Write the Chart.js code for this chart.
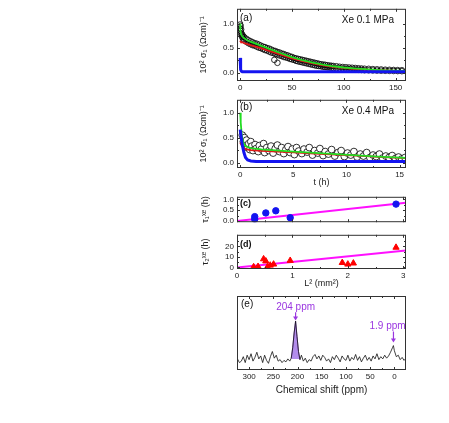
<!DOCTYPE html>
<html>
<head>
<meta charset="utf-8">
<script src="https://cdn.jsdelivr.net/npm/chart.js@4.4.0/dist/chart.umd.min.js"></script>
<style>
    html, body { margin: 0; padding: 0; background: #fff; width: 449px; height: 423px; overflow: hidden; }
    canvas { position: absolute; }
</style>
</head>
<body>
<canvas id="chart-a" width="225" height="92" style="left:190px;top:1px"></canvas>
<canvas id="chart-b" width="225" height="100" style="left:190px;top:92px"></canvas>
<canvas id="chart-c" width="225" height="41" style="left:190px;top:189px"></canvas>
<canvas id="chart-d" width="225" height="64" style="left:190px;top:227px"></canvas>
<canvas id="chart-e" width="225" height="103" style="left:190px;top:293px"></canvas>
<script>
// ---- Daten ----

// (a) Xe 0.1 MPa: Messpunkte [t (h), 10^2 sigma]
const circlesA = [
    [0, 0.98], [0, 0.9], [0.5, 0.85], [0.5, 0.95], [1, 0.8], [1, 0.88], [1.5, 0.76], [2, 0.78], [2, 0.72], [3, 0.74], [3, 0.68],
    [4, 0.72], [4, 0.66], [6, 0.69], [6, 0.63], [8, 0.66], [8, 0.6], [10, 0.64], [10, 0.58], [12, 0.62], [12, 0.56],
    [14, 0.6], [14, 0.55], [16, 0.59], [16, 0.53], [18, 0.57], [18, 0.51], [20, 0.55], [20, 0.5], [22, 0.53], [22, 0.48],
    [24, 0.52], [24, 0.46], [26, 0.5], [26, 0.45], [28, 0.49], [28, 0.43], [30, 0.47], [30, 0.41], [32, 0.45], [32, 0.4],
    [33, 0.26], [34, 0.44], [34, 0.38], [36, 0.42], [36, 0.37], [36, 0.2], [38, 0.41], [38, 0.35], [40, 0.39], [40, 0.34],
    [42, 0.38], [42, 0.32], [44, 0.36], [44, 0.31], [46, 0.35], [46, 0.3], [48, 0.33], [48, 0.28], [50, 0.32], [50, 0.27],
    [52, 0.3], [52, 0.26], [54, 0.29], [54, 0.24], [56, 0.28], [56, 0.23], [58, 0.27], [58, 0.22], [60, 0.26], [60, 0.21],
    [62, 0.25], [62, 0.2], [64, 0.24], [64, 0.19], [66, 0.23], [66, 0.18], [68, 0.22], [68, 0.17], [70, 0.21], [70, 0.16],
    [72, 0.2], [72, 0.15], [74, 0.19], [74, 0.14], [76, 0.18], [76, 0.135], [78, 0.17], [78, 0.13], [80, 0.165], [80, 0.12],
    [82, 0.16], [82, 0.115], [84, 0.15], [84, 0.11], [86, 0.145], [86, 0.105], [88, 0.14], [88, 0.1], [90, 0.135], [90, 0.095],
    [93, 0.13], [93, 0.09], [96, 0.12], [96, 0.085], [99, 0.115], [99, 0.08], [102, 0.11], [102, 0.075], [105, 0.105], [105, 0.07],
    [108, 0.1], [108, 0.065], [111, 0.095], [111, 0.06], [114, 0.09], [114, 0.058], [117, 0.085], [117, 0.055], [120, 0.08], [120, 0.05],
    [124, 0.078], [124, 0.048], [128, 0.072], [128, 0.045], [132, 0.068], [132, 0.042], [136, 0.065], [136, 0.04], [140, 0.06], [140, 0.038],
    [144, 0.058], [144, 0.036], [148, 0.055], [148, 0.034], [152, 0.052], [152, 0.032], [156, 0.05], [156, 0.03]
];
const fitTimeA = [0, 0.3, 1, 2, 4, 7, 10, 15, 20, 30, 40, 50, 60, 70, 80, 90, 100, 110, 120, 130, 140, 150, 160];
const greenA = [1.0, 0.85, 0.78, 0.74, 0.7, 0.66, 0.63, 0.59, 0.55, 0.47, 0.39, 0.315, 0.255, 0.205, 0.165, 0.13, 0.105, 0.085, 0.07, 0.058, 0.048, 0.04, 0.035];
const redA = [0.65, 0.64, 0.63, 0.62, 0.6, 0.58, 0.56, 0.53, 0.5, 0.43, 0.36, 0.29, 0.235, 0.19, 0.15, 0.12, 0.097, 0.078, 0.064, 0.053, 0.044, 0.037, 0.032];
const blueTimeA = [0, 0.3, 0.7, 1.2, 2, 160];
const blueA = [0.3, 0.15, 0.06, 0.03, 0.02, 0.02];

// (b) Xe 0.4 MPa
const circlesB = [
    [0.2, 0.55], [0.3, 0.42], [0.4, 0.5], [0.5, 0.35], [0.6, 0.45], [0.7, 0.3], [0.8, 0.38], [0.9, 0.26], [1.0, 0.42], [1.1, 0.33],
    [1.2, 0.24], [1.4, 0.36], [1.5, 0.28], [1.7, 0.22], [1.8, 0.34], [2.0, 0.27], [2.2, 0.38], [2.3, 0.2], [2.5, 0.3], [2.7, 0.24],
    [2.9, 0.33], [3.1, 0.19], [3.3, 0.28], [3.5, 0.35], [3.7, 0.22], [3.9, 0.3], [4.1, 0.18], [4.3, 0.26], [4.5, 0.32], [4.7, 0.2],
    [4.9, 0.27], [5.1, 0.16], [5.3, 0.3], [5.5, 0.23], [5.8, 0.18], [6.0, 0.27], [6.3, 0.21], [6.5, 0.3], [6.8, 0.15], [7.0, 0.24],
    [7.3, 0.19], [7.5, 0.28], [7.8, 0.14], [8.0, 0.22], [8.3, 0.17], [8.6, 0.26], [8.9, 0.13], [9.2, 0.2], [9.5, 0.24], [9.8, 0.12],
    [10.1, 0.19], [10.4, 0.15], [10.7, 0.22], [11.0, 0.11], [11.3, 0.17], [11.6, 0.13], [11.9, 0.2], [12.2, 0.1], [12.5, 0.15], [12.8, 0.12],
    [13.1, 0.17], [13.4, 0.09], [13.7, 0.13], [14.0, 0.1], [14.3, 0.14], [14.6, 0.08], [14.9, 0.11], [15.2, 0.07], [15.5, 0.1]
];
const fitTimeB = [0, 0.05, 0.15, 0.3, 0.5, 1, 2, 3, 5, 7, 9, 11, 13, 15, 15.6];
const greenB = [1.0, 0.8, 0.55, 0.4, 0.33, 0.29, 0.265, 0.25, 0.22, 0.195, 0.17, 0.145, 0.12, 0.1, 0.095];
const redB = [0.4, 0.38, 0.34, 0.3, 0.27, 0.25, 0.235, 0.225, 0.205, 0.18, 0.16, 0.14, 0.115, 0.095, 0.09];
const blueTimeB = [0, 0.1, 0.2, 0.35, 0.5, 0.7, 1, 1.5, 15.6];
const blueB = [0.66, 0.5, 0.35, 0.2, 0.1, 0.05, 0.03, 0.02, 0.02];

// (c) tau1 gegen L^2
const lengthC = [0.32, 0.32, 0.52, 0.7, 0.96, 2.87];
const tau1 = [0.2, 0.08, 0.37, 0.47, 0.15, 0.78];
const fitLineC = [[0, 0], [3.05, 0.84]];

// (d) tau2 gegen L^2
const lengthD = [0.3, 0.38, 0.48, 0.52, 0.55, 0.6, 0.66, 0.96, 1.9, 2.0, 2.1, 2.87];
const tau2 = [0.5, 0.8, 8, 6, 0.5, 2, 3, 6.5, 4.5, 3, 4, 19];
const fitLineD = [[0, 0], [3.05, 16]];

// (e) NMR-Spektrum [ppm, Intensitaet]
const spectrumE = [
    [324, 0.15], [320, 0.1], [316, 0.12], [312, 0.18], [308, 0.1], [304, 0.2], [300, 0.14], [296, 0.22], [292, 0.12], [288, 0.17],
    [284, 0.24], [280, 0.15], [276, 0.19], [272, 0.1], [268, 0.2], [264, 0.13], [260, 0.09], [256, 0.18], [252, 0.25], [248, 0.16],
    [244, 0.2], [240, 0.12], [236, 0.14], [232, 0.1], [228, 0.13], [224, 0.11], [220, 0.15], [216, 0.12], [213, 0.16], [210, 0.3],
    [207, 0.5], [204, 0.66], [201, 0.45], [198, 0.25], [195, 0.14], [192, 0.2], [188, 0.12], [184, 0.16], [180, 0.1], [176, 0.14],
    [172, 0.12], [168, 0.18], [164, 0.21], [160, 0.15], [156, 0.19], [152, 0.13], [148, 0.2], [144, 0.17], [140, 0.12], [136, 0.15],
    [132, 0.1], [128, 0.18], [124, 0.14], [120, 0.2], [116, 0.16], [112, 0.11], [108, 0.19], [104, 0.15], [100, 0.13], [96, 0.2],
    [92, 0.12], [88, 0.17], [84, 0.14], [80, 0.21], [76, 0.13], [72, 0.18], [68, 0.11], [64, 0.16], [60, 0.2], [56, 0.13],
    [52, 0.17], [48, 0.12], [44, 0.19], [40, 0.15], [36, 0.22], [32, 0.14], [28, 0.18], [24, 0.15], [20, 0.2], [16, 0.16],
    [12, 0.19], [8, 0.24], [4, 0.3], [2, 0.33], [0, 0.26], [-4, 0.18], [-8, 0.2], [-12, 0.14], [-16, 0.17], [-20, 0.13], [-24, 0.16]
];
const peakE = [[213, 0.16], [210, 0.3], [207, 0.5], [204, 0.66], [201, 0.45], [198, 0.25], [195, 0.14]];
const peakPpm = [204, 1.9];
const peakLabels = ['204 ppm', '1.9 ppm'];

// Achsenteilung (Haupt- und Nebenstriche)
const ticksTimeA = [0, 50, 100, 150];
const minorTimeA = [25, 75, 125];
const ticksTimeB = [0, 5, 10, 15];
const minorTimeB = [2.5, 7.5, 12.5];
const ticksSigma = [0, 0.5, 1.0];
const minorSigma = [0.25, 0.75];
const ticksLength = [0, 1, 2, 3];
const minorLength = [0.5, 1.5, 2.5];
const ticksTau1 = [0, 0.5, 1.0];
const minorTau1 = [0.25, 0.75];
const ticksTau2 = [0, 10, 20];
const minorTau2 = [5, 15, 25];
const ticksPpm = [300, 250, 200, 150, 100, 50, 0];
const minorPpm = [275, 225, 175, 125, 75, 25];

// ---- Stil ----
const FONT = "'Liberation Sans', Arial, sans-serif";
const COLORS = {
    green: '#22dd22',
    red: '#e01818',
    blue: '#1414f0',
    magenta: '#ff10ff',
    violet: '#9a36e0',
    violetFill: 'rgba(165, 120, 232, 0.85)',
    frame: '#333'
};

Chart.defaults.font.family = FONT;
Chart.defaults.color = '#222';

const pairs = (arr) => arr.map(([x, y]) => ({ x, y }));
const zip = (xs, ys) => xs.map((x, i) => ({ x, y: ys[i] }));

/**
 * Rahmen + nach innen gerichtete Striche + Texte im Panel
 */
const framePlugin = {
    id: 'frame',
    afterDatasetsDraw(chart, args, opts) {
        const { ctx, chartArea: a, scales } = chart;
        ctx.save();
        ctx.strokeStyle = COLORS.frame;
        ctx.lineWidth = 1;
        ctx.strokeRect(a.left + 0.5, a.top + 0.5, a.right - a.left - 1, a.bottom - a.top - 1);
        ctx.beginPath();
        const xMarks = scales.x.ticks.map(t => [t.value, 3]).concat((opts.xMinor || []).map(v => [v, 2]));
        xMarks.forEach(([v, len]) => {
            const px = Math.round(scales.x.getPixelForValue(v)) + 0.5;
            ctx.moveTo(px, a.bottom); ctx.lineTo(px, a.bottom - len);
            ctx.moveTo(px, a.top); ctx.lineTo(px, a.top + len);
        });
        if (opts.yTicks !== false) {
            const yMarks = scales.y.ticks.map(t => [t.value, 3]).concat((opts.yMinor || []).map(v => [v, 2]));
            yMarks.forEach(([v, len]) => {
                const py = Math.round(scales.y.getPixelForValue(v)) + 0.5;
                ctx.moveTo(a.left, py); ctx.lineTo(a.left + len, py);
                ctx.moveTo(a.right, py); ctx.lineTo(a.right - len, py);
            });
        }
        ctx.stroke();

        (opts.notes || []).forEach(n => {
            ctx.font = n.font || `10px ${FONT}`;
            ctx.fillStyle = n.color || '#111';
            ctx.textAlign = n.align || 'left';
            ctx.textBaseline = 'middle';
            ctx.fillText(n.text, n.right ? a.right - n.dx : a.left + n.dx, a.top + n.dy);
        });
        ctx.restore();
    }
};

/**
 * Pfeile und Beschriftungen im Spektrum
 */
const arrowPlugin = {
    id: 'arrows',
    afterDatasetsDraw(chart, args, opts) {
        if (!opts.items) return;
        const { ctx, scales } = chart;
        ctx.save();
        opts.items.forEach(it => {
            const px = scales.x.getPixelForValue(it.ppm);
            const y0 = scales.y.getPixelForValue(it.from);
            const y1 = scales.y.getPixelForValue(it.to);
            ctx.strokeStyle = COLORS.violet;
            ctx.fillStyle = COLORS.violet;
            ctx.lineWidth = 1.2;
            ctx.beginPath();
            ctx.moveTo(px, y0); ctx.lineTo(px, y1 - 3);
            ctx.stroke();
            ctx.beginPath();
            ctx.moveTo(px - 2.5, y1 - 4); ctx.lineTo(px + 2.5, y1 - 4); ctx.lineTo(px, y1);
            ctx.closePath();
            ctx.fill();
            ctx.font = `10px ${FONT}`;
            ctx.textAlign = 'center';
            ctx.textBaseline = 'middle';
            ctx.fillText(it.text, scales.x.getPixelForValue(it.labelPpm), scales.y.getPixelForValue(it.labelY));
        });
        ctx.restore();
    }
};

/**
 * Gemeinsame Optionen fuer alle Panels
 */
function panelOptions(o) {
    return {
        responsive: false,
        animation: false,
        devicePixelRatio: 1,
        layout: { padding: { top: 3, right: 9, left: 0, bottom: 0 } },
        plugins: {
            legend: { display: false },
            tooltip: { enabled: false },
            frame: { notes: o.notes, yTicks: o.yTicks, xMinor: o.xMinor, yMinor: o.yMinor },
            arrows: { items: o.arrows }
        },
        scales: {
            x: {
                type: 'linear',
                min: o.xMin,
                max: o.xMax,
                reverse: !!o.reverse,
                grid: { display: false, drawTicks: false },
                border: { display: false },
                afterBuildTicks: (s) => { s.ticks = o.xTicks.map(v => ({ value: v })); },
                afterFit: (s) => { s.height = o.xHeight; },
                ticks: {
                    display: o.xLabels !== false,
                    padding: 2,
                    maxRotation: 0,
                    font: { size: 8 },
                    callback: (v) => String(v)
                },
                title: {
                    display: !!o.xTitle,
                    text: o.xTitle,
                    font: { size: o.xTitleSize || 9 },
                    padding: { top: 0, bottom: o.xTitlePad || 0 }
                }
            },
            y: {
                type: 'linear',
                min: o.yMin,
                max: o.yMax,
                grid: { display: false, drawTicks: false },
                border: { display: false },
                afterBuildTicks: (s) => { s.ticks = (o.yTicksList || []).map(v => ({ value: v })); },
                afterFit: (s) => { s.width = 47; },
                ticks: {
                    display: !!o.yTicksList,
                    padding: 3,
                    font: { size: 8 },
                    callback: o.yFmt || ((v) => String(v))
                },
                title: {
                    display: !!o.yTitle,
                    text: o.yTitle,
                    font: { size: 9 },
                    padding: { top: o.yTitlePad || 8, bottom: 0 }
                }
            }
        }
    };
}

function lineSet(data, color, width) {
    return { data, showLine: true, borderColor: color, borderWidth: width, pointRadius: 0, fill: false, tension: 0 };
}

function circleSet(data, radius, bg) {
    return { data, showLine: false, pointRadius: radius, pointBorderWidth: 0.8, pointBorderColor: '#000', pointBackgroundColor: bg };
}

/**
 * (a) Leitfaehigkeit 0.1 MPa
 */
function initChartA() {
    new Chart(document.getElementById('chart-a'), {
        type: 'scatter',
        data: {
            datasets: [
                lineSet(zip(blueTimeA, blueA), COLORS.blue, 3),
                lineSet(zip(fitTimeA, greenA), COLORS.green, 1.8),
                lineSet(zip(fitTimeA, redA), COLORS.red, 1.8),
                circleSet(pairs(circlesA), 2.8, 'rgba(255,255,255,0)')
            ]
        },
        options: panelOptions({
            xMin: -3, xMax: 160, xTicks: ticksTimeA, xMinor: minorTimeA, xHeight: 12,
            yMin: -0.17, yMax: 1.3, yTicksList: ticksSigma, yMinor: minorSigma, yFmt: v => v.toFixed(1),
            yTitle: '10² σ₁ (Ωcm)⁻¹',
            notes: [
                { text: '(a)', dx: 3, dy: 9 },
                { text: 'Xe 0.1 MPa', dx: 12, dy: 11, right: true, align: 'right' }
            ]
        }),
        plugins: [framePlugin]
    });
}

/**
 * (b) Leitfaehigkeit 0.4 MPa
 */
function initChartB() {
    new Chart(document.getElementById('chart-b'), {
        type: 'scatter',
        data: {
            datasets: [
                lineSet(zip(blueTimeB, blueB), COLORS.blue, 3),
                lineSet(zip(fitTimeB, greenB), COLORS.green, 1.8),
                lineSet(zip(fitTimeB, redB), COLORS.red, 1.8),
                circleSet(pairs(circlesB), 3.4, '#fff')
            ]
        },
        options: panelOptions({
            xMin: -0.3, xMax: 15.6, xTicks: ticksTimeB, xMinor: minorTimeB, xHeight: 24, xTitle: 't (h)', xTitlePad: 4,
            yMin: -0.11, yMax: 1.26, yTicksList: ticksSigma, yMinor: minorSigma, yFmt: v => v.toFixed(1),
            yTitle: '10² σ₁ (Ωcm)⁻¹',
            notes: [
                { text: '(b)', dx: 3, dy: 7 },
                { text: 'Xe 0.4 MPa', dx: 12, dy: 11, right: true, align: 'right' }
            ]
        }),
        plugins: [framePlugin]
    });
}

/**
 * (c) tau1 - lineare Anpassung
 */
function initChartC() {
    new Chart(document.getElementById('chart-c'), {
        type: 'scatter',
        data: {
            datasets: [
                { data: zip(lengthC, tau1), pointRadius: 3.2, pointBackgroundColor: COLORS.blue, pointBorderColor: COLORS.blue },
                lineSet(pairs(fitLineC), COLORS.magenta, 2)
            ]
        },
        options: panelOptions({
            xMin: 0, xMax: 3.05, xTicks: ticksLength, xMinor: minorLength, xHeight: 0, xLabels: false,
            yMin: -0.06, yMax: 1.12, yTicksList: ticksTau1, yMinor: minorTau1, yFmt: v => v.toFixed(1),
            yTitle: 'τ₁ˣᵉ (h)', yTitlePad: 10,
            notes: [{ text: '(c)', dx: 3, dy: 7, font: `bold 9px ${FONT}` }]
        }),
        plugins: [framePlugin]
    });
}

/**
 * (d) tau2 - lineare Anpassung
 */
function initChartD() {
    new Chart(document.getElementById('chart-d'), {
        type: 'scatter',
        data: {
            datasets: [
                { data: zip(lengthD, tau2), pointStyle: 'triangle', pointRadius: 3.6, pointBackgroundColor: '#ff0000', pointBorderColor: '#ff0000' },
                lineSet(pairs(fitLineD), COLORS.magenta, 2)
            ]
        },
        options: panelOptions({
            xMin: 0, xMax: 3.05, xTicks: ticksLength, xMinor: minorLength, xHeight: 22, xTitle: 'L² (mm²)', xTitlePad: 2,
            yMin: -1.5, yMax: 31, yTicksList: ticksTau2, yMinor: minorTau2,
            yTitle: 'τ₂ˣᵉ (h)', yTitlePad: 10,
            notes: [{ text: '(d)', dx: 3, dy: 10, font: `bold 9px ${FONT}` }]
        }),
        plugins: [framePlugin]
    });
}

/**
 * (e) Spektrum mit Peaks
 */
function initChartE() {
    new Chart(document.getElementById('chart-e'), {
        type: 'scatter',
        data: {
            datasets: [
                lineSet(pairs(spectrumE), '#111', 0.8),
                Object.assign(lineSet(pairs(peakE), '#8040c8', 0.8), { fill: { value: 0.15 }, backgroundColor: COLORS.violetFill })
            ]
        },
        options: panelOptions({
            xMin: -24, xMax: 325, reverse: true, xTicks: ticksPpm, xMinor: minorPpm, xHeight: 26,
            xTitle: 'Chemical shift (ppm)', xTitleSize: 10, xTitlePad: 0,
            yMin: 0, yMax: 1, yTicks: false,
            notes: [{ text: '(e)', dx: 4, dy: 8 }],
            arrows: [
                { ppm: peakPpm[0], from: 0.78, to: 0.67, text: peakLabels[0], labelPpm: 204, labelY: 0.85 },
                { ppm: peakPpm[1], from: 0.52, to: 0.37, text: peakLabels[1], labelPpm: 14, labelY: 0.59 }
            ]
        }),
        plugins: [framePlugin, arrowPlugin]
    });
}

initChartA();
initChartB();
initChartC();
initChartD();
initChartE();
</script>
</body>
</html>
